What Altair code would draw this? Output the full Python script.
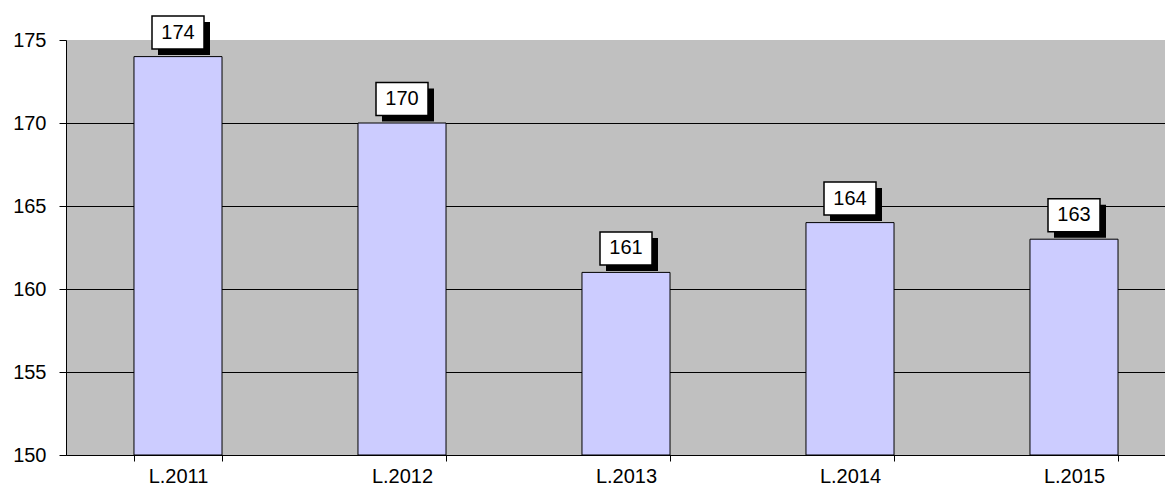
import altair as alt
import pandas as pd

categories = ["L.2011", "L.2012", "L.2013", "L.2014", "L.2015"]
values = [174, 170, 161, 164, 163]
y_ticks = [150, 155, 160, 165, 170, 175]

df = pd.DataFrame({"year": categories, "value": values})

FONT = "Liberation Sans"
BOX = "M-1,-0.635H1V0.635H-1Z"

xscale = alt.Scale(domain=categories, range=[0, 1120], paddingInner=0.607, paddingOuter=0.3035)
yscale = alt.Scale(domain=[150, 175], nice=False, zero=False)

x_enc = alt.X("year:N", scale=xscale, sort=categories,
              axis=alt.Axis(title=None, labelAngle=0, labelFontSize=20, labelColor="black",
                            labelFont=FONT, domainColor="black", tickColor="black",
                            tickSize=6, tickBand="extent", labelPadding=5, grid=False))
y_enc = alt.Y("value:Q", scale=yscale,
              axis=alt.Axis(title=None, values=y_ticks, labelFontSize=20, labelColor="black",
                            labelFont=FONT, domainColor="black", tickColor="black",
                            tickSize=7, labelPadding=13, grid=True, gridColor="black",
                            gridOpacity={"condition": {"test": "datum.value >= 175", "value": 0}, "value": 1}))

base = alt.Chart(df).encode(x=x_enc, y=y_enc)

bars = base.mark_bar(fill="#CCCCFF", stroke="black", strokeWidth=1).encode(y2=alt.datum(150))

shadow = base.mark_point(shape=BOX, size=2704, filled=True, fill="black", opacity=1,
                         strokeWidth=0, xOffset=6, yOffset=-18)
box = base.mark_point(shape=BOX, size=2704, filled=True, fill="white", stroke="black",
                      strokeWidth=1.5, opacity=1, yOffset=-24)
text = base.mark_text(fontSize=20, font=FONT, color="black", baseline="middle",
                      align="center", yOffset=-24).encode(text="value:Q")

chart = alt.layer(bars, shadow, box, text).properties(
    width=1099, height=415,
    autosize=alt.AutoSizeParams(type="none"),
    padding={"left": 58, "top": 32, "right": 0, "bottom": 32},
).configure(font=FONT).configure_view(fill="#C0C0C0", strokeWidth=0)

chart.save("out.html", embed_options={"renderer": "svg", "actions": False})
